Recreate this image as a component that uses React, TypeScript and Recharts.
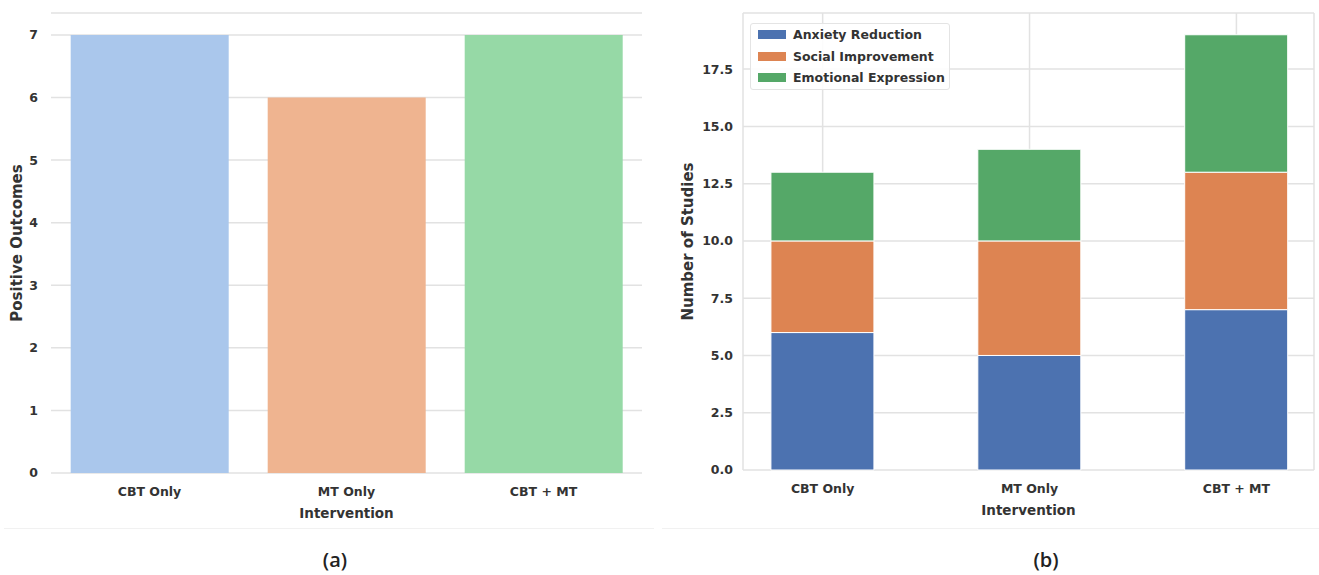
import { Bar, BarChart, CartesianGrid, Cell, Legend, ReferenceArea, XAxis, YAxis } from "recharts";

const categories = ["CBT Only", "MT Only", "CBT + MT"];
const positiveOutcomes = [7, 6, 7];
const outcomeColors = ["#aac7ec", "#efb490", "#96d9a6"];
const outcomeTicks = [0, 1, 2, 3, 4, 5, 6, 7];

const anxietyReduction = [6, 5, 7];
const socialImprovement = [4, 5, 6];
const emotionalExpression = [3, 4, 6];
const studyTicks = [0, 2.5, 5, 7.5, 10, 12.5, 15, 17.5];

const seriesB = [
  { key: "anxiety", name: "Anxiety Reduction", color: "#4c72b0" },
  { key: "social", name: "Social Improvement", color: "#dd8452" },
  { key: "emotional", name: "Emotional Expression", color: "#55a868" },
];

const outcomeData = categories.map((name, i) => ({ name, value: positiveOutcomes[i] }));
const studyData = categories.map((name, i) => ({
  idx: i,
  name,
  anxiety: anxietyReduction[i],
  social: socialImprovement[i],
  emotional: emotionalExpression[i],
}));

const FONT = "'DejaVu Sans', sans-serif";
const TEXT = "#333333";
const GRID = "#e2e2e2";
const FRAME = "#d8d8d8";
const tickStyle = { fill: TEXT, fontSize: 12.5, fontWeight: "bold", fontFamily: FONT };
const xLabelStyle = { fill: TEXT, fontSize: 13.5, fontWeight: "bold", fontFamily: FONT };
const yLabelStyle = { fill: TEXT, fontSize: 15, fontWeight: "bold", fontFamily: FONT, textAnchor: "middle" };

function LegendBox() {
  return (
    <div
      style={{
        background: "rgba(255,255,255,0.9)",
        border: "1px solid #e4e4e4",
        borderRadius: 3,
        padding: "0 4px 0 7px",
        fontFamily: FONT,
        fontWeight: "bold",
        fontSize: 12.5,
        color: TEXT,
      }}
    >
      {seriesB.map((s) => (
        <div key={s.key} style={{ display: "flex", alignItems: "center", height: 21.5 }}>
          <span style={{ width: 28, height: 9, background: s.color, marginRight: 7, display: "inline-block" }} />
          {s.name}
        </div>
      ))}
    </div>
  );
}

function PanelLabel({ text, x }: { text: string; x: number }) {
  return (
    <div
      style={{
        position: "absolute",
        left: x - 30,
        top: 546,
        width: 60,
        textAlign: "center",
        fontFamily: "'Open Sans', sans-serif",
        fontWeight: 600,
        fontSize: 20,
        color: "#222",
      }}
    >
      {text}
    </div>
  );
}

export default function App() {
  return (
    <div style={{ position: "absolute", left: 0, top: 0, width: 1319, height: 575, background: "#fff", overflow: "hidden" }}>
      {/* (a) positive outcomes */}
      <div style={{ position: "absolute", left: 0, top: 0 }}>
        <BarChart width={660} height={530} data={outcomeData} margin={{ top: 13, right: 18, bottom: 0, left: 0 }} barCategoryGap="10%">
          <CartesianGrid vertical={false} stroke={GRID} strokeWidth={1.5} />
          <ReferenceArea fill="none" stroke={FRAME} strokeWidth={1.5} />
          <XAxis
            dataKey="name"
            height={57}
            tickLine={false}
            axisLine={false}
            tickSize={0}
            tickMargin={14}
            tick={tickStyle}
            label={{ value: "Intervention", position: "insideBottom", offset: 12, style: xLabelStyle }}
          />
          <YAxis
            width={51}
            domain={[0, 7.35]}
            ticks={outcomeTicks}
            tickLine={false}
            axisLine={false}
            tickSize={0}
            tickMargin={13}
            tick={tickStyle}
            label={{ value: "Positive Outcomes", angle: -90, position: "insideLeft", offset: 17, style: yLabelStyle }}
          />
          <Bar dataKey="value" isAnimationActive={false}>
            {outcomeData.map((d, i) => (
              <Cell key={d.name} fill={outcomeColors[i]} />
            ))}
          </Bar>
        </BarChart>
      </div>

      {/* (b) studies by outcome */}
      <div style={{ position: "absolute", left: 660, top: 0 }}>
        <BarChart width={659} height={530} data={studyData} margin={{ top: 13, right: 5, bottom: 0, left: 0 }} barCategoryGap="25%">
          <CartesianGrid stroke={GRID} strokeWidth={1.5} />
          <ReferenceArea fill="none" stroke={FRAME} strokeWidth={1.5} />
          <XAxis
            dataKey="idx"
            type="number"
            domain={[-0.385, 2.375]}
            ticks={[0, 1, 2]}
            allowDataOverflow
            tickFormatter={(v: number) => categories[v] ?? ""}
            height={60}
            tickLine={false}
            axisLine={false}
            tickSize={0}
            tickMargin={14}
            tick={tickStyle}
            label={{ value: "Intervention", position: "insideBottom", offset: 15, style: xLabelStyle }}
          />
          <YAxis
            width={83}
            domain={[0, 19.95]}
            ticks={studyTicks}
            tickFormatter={(v: number) => v.toFixed(1)}
            tickLine={false}
            axisLine={false}
            tickSize={0}
            tickMargin={10}
            tick={tickStyle}
            label={{ value: "Number of Studies", angle: -90, position: "insideLeft", offset: 28, style: yLabelStyle }}
          />
          <Legend
            layout="vertical"
            align="center"
            verticalAlign="middle"
            content={() => <LegendBox />}
            wrapperStyle={{ left: 90, top: 23, width: "auto", height: "auto" }}
          />
          {seriesB.map((s) => (
            <Bar key={s.key} dataKey={s.key} name={s.name} stackId="a" fill={s.color} stroke="#fff" strokeWidth={1} isAnimationActive={false} />
          ))}
        </BarChart>
      </div>

      <div style={{ position: "absolute", left: 4, top: 528, width: 650, height: 1, background: "#f1f1f1" }} />
      <div style={{ position: "absolute", left: 662, top: 528, width: 657, height: 1, background: "#f1f1f1" }} />
      <PanelLabel text="(a)" x={335} />
      <PanelLabel text="(b)" x={1046} />
    </div>
  );
}
